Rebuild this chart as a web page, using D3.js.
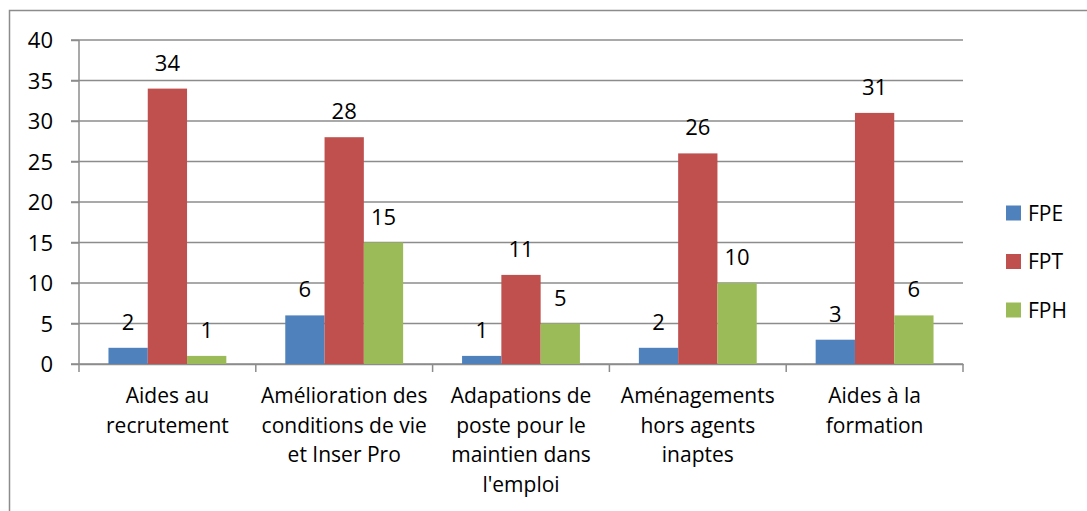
<!DOCTYPE html>
<html lang="fr">
<head>
<meta charset="UTF-8">
<title>Aides par fonction publique</title>
<script src="https://d3js.org/d3.v7.min.js"></script>
<style>
    body { margin: 0; background: #fff; }
    svg text { font-family: "Open Sans", "Noto Sans", sans-serif; fill: #000; }
    .grid line { stroke: #8c8c8c; stroke-width: 1.5px; }
    .axis path, .axis line { stroke: #8c8c8c; stroke-width: 1.5px; }
</style>
</head>
<body>
<div id="chart"></div>
<script>
    // données
    const categories = [
        "Aides au\nrecrutement",
        "Amélioration des\nconditions de vie\net Inser Pro",
        "Adapations de\nposte pour le\nmaintien dans\nl'emploi",
        "Aménagements\nhors agents\ninaptes",
        "Aides à la\nformation"
    ];
    const seriesNames = ["FPE", "FPT", "FPH"];
    const fpe = [2, 6, 1, 2, 3];
    const fpt = [34, 28, 11, 26, 31];
    const fph = [1, 15, 5, 10, 6];
    const yTicks = [0, 5, 10, 15, 20, 25, 30, 35, 40];
    const colors = ["#4f81bd", "#c0504d", "#9bbb59"];

    const series = [fpe, fpt, fph];
    const width = 1087, height = 511;
    const margin = { left: 79, right: 124, top: 40, bottom: 147 };

    const svg = d3.select("#chart").append("svg")
        .attr("width", width)
        .attr("height", height);

    // cadre
    svg.append("rect")
        .attr("x", 9.5).attr("y", 10.5)
        .attr("width", width + 10).attr("height", height + 10)
        .attr("fill", "none")
        .attr("stroke", "#8c8c8c")
        .attr("stroke-width", 1.5);

    const x0 = d3.scaleBand()
        .domain(d3.range(categories.length))
        .range([margin.left, width - margin.right]);

    // largeur d'espacement 150 % : 3 barres + 1.5 barre = largeur de catégorie
    const x1 = d3.scaleBand()
        .domain(d3.range(series.length))
        .range([0, x0.bandwidth()])
        .paddingOuter(0.75)
        .paddingInner(0);

    const y = d3.scaleLinear()
        .domain([0, 40])
        .range([height - margin.bottom, margin.top]);

    // quadrillage
    svg.append("g")
        .attr("class", "grid")
        .selectAll("line")
        .data(yTicks)
        .enter().append("line")
        .attr("x1", margin.left - 8)
        .attr("x2", width - margin.right)
        .attr("y1", d => y(d))
        .attr("y2", d => y(d));

    // axe Y
    const yAxis = svg.append("g")
        .attr("class", "axis")
        .attr("transform", `translate(${margin.left},0)`)
        .call(d3.axisLeft(y).tickValues(yTicks).tickSize(8).tickSizeOuter(0));
    yAxis.select(".domain").attr("d", `M0,${y(40)}V${y(0)}`);
    yAxis.selectAll(".tick text")
        .attr("x", -26)
        .attr("dy", "0.36em")
        .style("font-size", "22px")
        .style("font-family", null);

    // axe X
    const xAxis = svg.append("g")
        .attr("class", "axis")
        .attr("transform", `translate(0,${y(0)})`)
        .call(d3.axisBottom(x0).tickSize(0).tickFormat(""));
    xAxis.selectAll(".tick").remove();
    xAxis.selectAll(".sep")
        .data(d3.range(categories.length + 1))
        .enter().append("line")
        .attr("x1", d => margin.left + d * x0.step())
        .attr("x2", d => margin.left + d * x0.step())
        .attr("y1", 0).attr("y2", 8);

    const catLabels = svg.append("g")
        .selectAll("text")
        .data(categories)
        .enter().append("text")
        .attr("text-anchor", "middle")
        .attr("transform", (d, i) => `translate(${x0(i) + x0.bandwidth() / 2},${y(0) + 39})`)
        .style("font-size", "21px");
    catLabels.selectAll("tspan")
        .data(d => d.split("\n"))
        .enter().append("tspan")
        .attr("x", 0)
        .attr("y", (d, i) => i * 29.5)
        .text(d => d);

    // barres
    const groups = svg.append("g")
        .selectAll("g")
        .data(series)
        .enter().append("g")
        .attr("fill", (d, i) => colors[i]);

    groups.each(function (values, s) {
        const g = d3.select(this);
        g.selectAll("rect")
            .data(values)
            .enter().append("rect")
            .attr("x", (d, i) => x0(i) + x1(s))
            .attr("width", x1.bandwidth())
            .attr("y", d => y(d))
            .attr("height", d => y(0) - y(d));
        g.selectAll("text")
            .data(values)
            .enter().append("text")
            .attr("x", (d, i) => x0(i) + x1(s) + x1.bandwidth() / 2)
            .attr("y", d => y(d) - 18)
            .attr("text-anchor", "middle")
            .style("font-size", "22px")
            .text(d => d);
    });

    // légende
    const legend = svg.append("g")
        .selectAll("g")
        .data(seriesNames)
        .enter().append("g")
        .attr("transform", (d, i) => `translate(1006,${213 + i * 48.5})`);
    legend.append("rect")
        .attr("y", -7.5)
        .attr("width", 15).attr("height", 15)
        .attr("fill", (d, i) => colors[i]);
    legend.append("text")
        .attr("x", 22)
        .attr("dy", "0.36em")
        .style("font-size", "21px")
        .text(d => d);
</script>
</body>
</html>
